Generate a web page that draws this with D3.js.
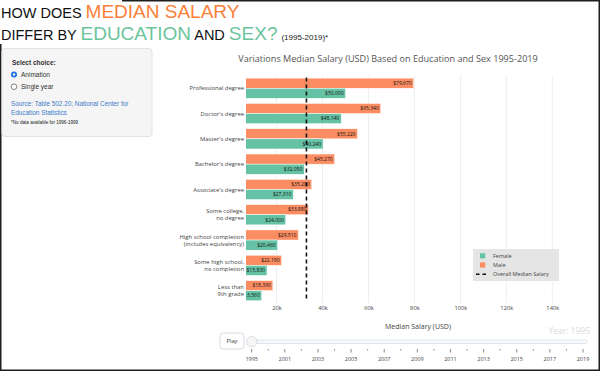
<!DOCTYPE html>
<html>
<head>
<meta charset="utf-8">
<script src="https://cdnjs.cloudflare.com/ajax/libs/d3/7.8.5/d3.min.js"></script>
<style>
  body { margin: 0; background: #fff; }
  svg { display: block; }
</style>
</head>
<body>
<svg id="chart" width="600" height="371"></svg>
<script>
// chart values (year 1995 frame)
var categories = ["Professional degree", "Doctor's degree", "Master's degree", "Bachelor's degree",
  "Associate's degree", "Some college, no degree", "High school completion (includes equivalency)",
  "Some high school, no completion", "Less than 9th grade"];
var categoryLines = [["Professional degree"], ["Doctor's degree"], ["Master's degree"], ["Bachelor's degree"],
  ["Associate's degree"], ["Some college,", "no degree"], ["High school completion", "(includes equivalency)"],
  ["Some high school,", "no completion"], ["Less than", "9th grade"]];
var maleValues = [79670, 65340, 55220, 45270, 35280, 33880, 29510, 22190, 18390];
var femaleValues = [50000, 48140, 40240, 32050, 27310, 24000, 20460, 15830, 13560];
var medianSalary = 33000;
var xTickValues = [20000, 40000, 60000, 80000, 100000, 120000, 140000];
var sliderYears = [1995, 2000, 2001, 2002, 2003, 2004, 2005, 2006, 2007, 2008, 2009, 2010,
  2011, 2012, 2013, 2014, 2015, 2016, 2017, 2018, 2019];
var legendItems = ["Female", "Male", "Overall Median Salary"];

var femaleColor = "#66c2a5", maleColor = "#fc8d62";
var plotFont = "'Open Sans', verdana, arial, sans-serif";
var pageFont = "'Liberation Sans', Arial, Helvetica, sans-serif";

var svg = d3.select("#chart");

// frame round the screenshot
svg.append("path")
  .attr("d", "M122,0.75 H599.25 V370.25 H0.75 V44")
  .attr("fill", "none")
  .attr("stroke", "#1e1e1e")
  .attr("stroke-width", 1.5);

// page title
var t1 = svg.append("text").attr("x", 1).attr("y", 18).style("font-family", pageFont).attr("fill", "#111");
t1.append("tspan").attr("font-size", 14.5).text("HOW DOES ");
t1.append("tspan").attr("font-size", 19).attr("fill", "#fa8039").text("MEDIAN SALARY");
var t2 = svg.append("text").attr("x", 1).attr("y", 40).style("font-family", pageFont).attr("fill", "#111");
t2.append("tspan").attr("font-size", 14.5).text("DIFFER BY ");
t2.append("tspan").attr("font-size", 19).attr("fill", "#6cc49c").text("EDUCATION");
t2.append("tspan").attr("font-size", 14.5).text(" AND ");
t2.append("tspan").attr("font-size", 19).attr("fill", "#6cc49c").text("SEX?");
t2.append("tspan").attr("font-size", 8).attr("dx", 4).attr("fill", "#222").text("(1995-2019)*");

// side panel
var panel = svg.append("g").style("font-family", pageFont);
panel.append("rect")
  .attr("x", 2).attr("y", 48.5).attr("width", 150).attr("height", 88)
  .attr("rx", 3)
  .attr("fill", "#f5f5f5").attr("stroke", "#e3e3e3");
panel.append("text").attr("x", 12).attr("y", 65).attr("font-size", 6.5).attr("font-weight", "bold")
  .attr("fill", "#333").text("Select choice:");
panel.append("circle").attr("cx", 14).attr("cy", 74.5).attr("r", 3).attr("fill", "#1a73e8");
panel.append("circle").attr("cx", 14).attr("cy", 74.5).attr("r", 1.2).attr("fill", "#fff");
panel.append("text").attr("x", 21).attr("y", 77).attr("font-size", 6.5).attr("fill", "#333").text("Animation");
panel.append("circle").attr("cx", 14).attr("cy", 86.7).attr("r", 2.8).attr("fill", "#fff")
  .attr("stroke", "#666").attr("stroke-width", 0.8);
panel.append("text").attr("x", 21).attr("y", 89.2).attr("font-size", 6.5).attr("fill", "#333").text("Single year");
panel.append("text").attr("x", 11).attr("y", 105.5).attr("font-size", 6.4).attr("fill", "#3a7bc8")
  .text("Source: Table 502.20; National Center for");
panel.append("text").attr("x", 11).attr("y", 115).attr("font-size", 6.4).attr("fill", "#3a7bc8")
  .text("Education Statistics");
panel.append("text").attr("x", 11).attr("y", 124).attr("font-size", 4.6).attr("fill", "#222")
  .text("*No data available for 1996-1999");

// plot area
var plot = {left: 246, right: 590, top: 75.6, bottom: 303.3};

var x = d3.scaleLinear().domain([6700, 156400]).range([plot.left, plot.right]);
var y = d3.scaleBand().domain(categories).range([plot.top, plot.bottom])
  .paddingInner(0.2).paddingOuter(0.1);
var sub = d3.scaleBand().domain(["Male", "Female"]).range([0, y.bandwidth()]);

svg.append("text")
  .attr("x", 388).attr("y", 62)
  .attr("text-anchor", "middle")
  .style("font-family", plotFont).attr("font-size", 9.1).attr("fill", "#555")
  .text("Variations Median Salary (USD) Based on Education and Sex 1995-2019");

svg.append("clipPath").attr("id", "plotclip")
  .append("rect").attr("x", plot.left).attr("y", plot.top - 5)
  .attr("width", plot.right - plot.left).attr("height", plot.bottom - plot.top + 10);

// gridlines
svg.append("g").selectAll("line")
  .data(xTickValues)
  .join("line")
  .attr("x1", function(d) { return x(d); })
  .attr("x2", function(d) { return x(d); })
  .attr("y1", plot.top).attr("y2", plot.bottom)
  .attr("stroke", "#eeeeee").attr("stroke-width", 1);

// x axis
var xAxis = svg.append("g")
  .attr("transform", "translate(0," + (plot.bottom + 2) + ")")
  .call(d3.axisBottom(x).tickValues(xTickValues).tickSize(0).tickFormat(d3.format("~s")));
xAxis.select(".domain").remove();
xAxis.selectAll("text").style("font-family", plotFont).attr("font-size", 5.8).attr("fill", "#444")
  .attr("dy", "0.71em").attr("y", 1);

svg.append("text")
  .attr("x", (plot.left + plot.right) / 2).attr("y", 329)
  .attr("text-anchor", "middle")
  .style("font-family", plotFont).attr("font-size", 7).attr("fill", "#444")
  .text("Median Salary (USD)");

// category labels
var catLabels = svg.append("g").style("font-family", plotFont).attr("font-size", 5.9).attr("fill", "#444");
categories.forEach(function(c, i) {
  var lines = categoryLines[i];
  var cy = y(c) + y.bandwidth() / 2;
  var txt = catLabels.append("text").attr("text-anchor", "end").attr("x", plot.left - 2);
  lines.forEach(function(l, j) {
    txt.append("tspan").attr("x", plot.left - 2)
      .attr("y", cy + (j - (lines.length - 1) / 2) * 7.2)
      .attr("dy", "0.35em").text(l);
  });
});

// bars
var rows = categories.map(function(c, i) {
  return [{cat: c, sex: "Male", value: maleValues[i]}, {cat: c, sex: "Female", value: femaleValues[i]}];
});
var bars = svg.append("g").attr("clip-path", "url(#plotclip)");
var barGroup = bars.selectAll("g.cat")
  .data(rows)
  .join("g")
  .attr("class", "cat");
barGroup.selectAll("rect")
  .data(function(d) { return d; })
  .join("rect")
  .attr("x", x(0))
  .attr("y", function(d) { return y(d.cat) + sub(d.sex); })
  .attr("width", function(d) { return x(d.value) - x(0); })
  .attr("height", sub.bandwidth())
  .attr("fill", function(d) { return d.sex === "Male" ? maleColor : femaleColor; })
  .attr("stroke", "#fff").attr("stroke-width", 0.5);
barGroup.selectAll("text")
  .data(function(d) { return d; })
  .join("text")
  .attr("x", function(d) { return x(d.value) - 2; })
  .attr("y", function(d) { return y(d.cat) + sub(d.sex) + sub.bandwidth() / 2; })
  .attr("dy", "0.35em")
  .attr("text-anchor", "end")
  .style("font-family", plotFont).attr("font-size", 5)
  .attr("fill", "#111")
  .text(function(d) { return "$" + d3.format(",")(d.value); });

// overall median
svg.append("line")
  .attr("x1", x(medianSalary)).attr("x2", x(medianSalary))
  .attr("y1", plot.top + 2).attr("y2", plot.bottom - 2)
  .attr("stroke", "#111").attr("stroke-width", 1.6)
  .attr("stroke-dasharray", "4,3");

// legend
var legend = svg.append("g").attr("transform", "translate(473,249)");
legend.append("rect").attr("width", 86).attr("height", 32).attr("fill", "#e5e5e5");
legendItems.forEach(function(name, i) {
  var ly = 6.8 + i * 9.2;
  if (i < 2) {
    legend.append("rect").attr("x", 7).attr("y", ly - 2.6).attr("width", 5.2).attr("height", 5.2)
      .attr("fill", i === 0 ? femaleColor : maleColor);
  } else {
    legend.append("line").attr("x1", 3).attr("x2", 16).attr("y1", ly).attr("y2", ly)
      .attr("stroke", "#111").attr("stroke-width", 1.4).attr("stroke-dasharray", "3.5,3");
  }
  legend.append("text").attr("x", 20).attr("y", ly).attr("dy", "0.35em")
    .style("font-family", plotFont).attr("font-size", 5.5).attr("fill", "#444").text(name);
});

// year slider
var sx = d3.scalePoint().domain(sliderYears).range([251.7, 583]);
svg.append("text")
  .attr("x", 590).attr("y", 334)
  .attr("text-anchor", "end")
  .style("font-family", plotFont).attr("font-size", 8.5).attr("fill", "#dadada")
  .text("Year: 1995");
svg.append("rect")
  .attr("x", 220).attr("y", 333).attr("width", 24).attr("height", 16).attr("rx", 3)
  .attr("fill", "#fff").attr("stroke", "#d5dbe5");
svg.append("text")
  .attr("x", 232).attr("y", 341).attr("dy", "0.35em")
  .attr("text-anchor", "middle")
  .style("font-family", plotFont).attr("font-size", 5.8).attr("fill", "#444")
  .text("Play");
svg.append("rect")
  .attr("x", 248).attr("y", 340).attr("width", 339).attr("height", 3.4).attr("rx", 1.7)
  .attr("fill", "#f8fafc").attr("stroke", "#d5dbe5").attr("stroke-width", 0.8);
svg.append("g").selectAll("line")
  .data(sliderYears)
  .join("line")
  .attr("x1", function(d) { return sx(d); })
  .attr("x2", function(d) { return sx(d); })
  .attr("y1", 349)
  .attr("y2", function(d, i) { return i % 2 === 0 ? 352.5 : 350.5; })
  .attr("stroke", "#555").attr("stroke-width", 0.7);
svg.append("g").selectAll("text")
  .data(sliderYears.filter(function(d, i) { return i % 2 === 0; }))
  .join("text")
  .attr("x", function(d) { return sx(d); })
  .attr("y", 361)
  .attr("text-anchor", "middle")
  .style("font-family", plotFont).attr("font-size", 5.5).attr("fill", "#444")
  .text(function(d) { return d; });
svg.append("circle")
  .attr("cx", sx(sliderYears[0])).attr("cy", 341.7).attr("r", 5.2)
  .attr("fill", "#f6f6f6").attr("stroke", "#cdd3de").attr("stroke-width", 0.8);
</script>
</body>
</html>
